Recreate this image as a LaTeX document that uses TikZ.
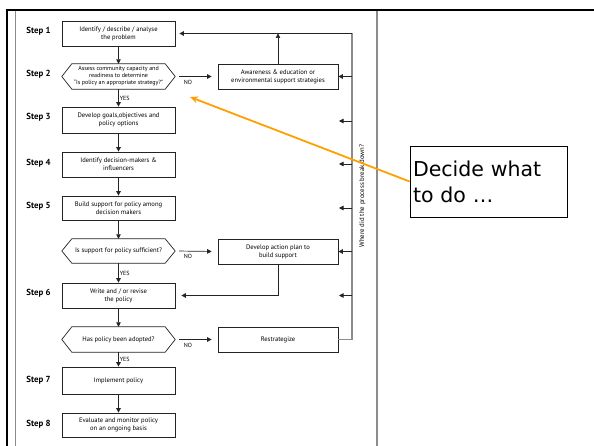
\documentclass[tikz,border=0pt]{standalone}
\usepackage{fontspec}
\setmainfont{PT Sans}
\newfontfamily\calloutfont{DejaVu Sans}
\usetikzlibrary{arrows.meta,calc}
\definecolor{framegray}{RGB}{140,140,140}
\definecolor{linedark}{RGB}{35,35,35}
\definecolor{calloutorange}{RGB}{255,160,0}
% hexagonal decision frame around a (borderless) node
\newcommand\drawhex[1]{%
  \draw[draw=linedark, line width=0.7pt] (#1.west) -- ($(#1.north west)+(10,0)$) -- ($(#1.north east)+(-10,0)$)
    -- (#1.east) -- ($(#1.south east)+(-10,0)$) -- ($(#1.south west)+(10,0)$) -- cycle;}

\begin{document}
\begin{tikzpicture}[x=1pt,y=-1pt,
  boxtext/.style={font=\fontsize{6.6}{7.8}\selectfont},
  stepbox/.style={draw=linedark, line width=0.7pt, minimum width=113pt, minimum height=25pt,
    align=center, inner sep=1pt, boxtext},
  sidebox/.style={stepbox, minimum width=120pt},
  hexnode/.style={minimum width=113pt, minimum height=25pt, align=center, inner sep=1pt, boxtext},
  steplabel/.style={font=\bfseries\fontsize{8.8}{10}\selectfont, inner sep=0pt},
  flow/.style={draw=linedark, line width=0.7pt, -{Triangle[length=4.5pt,width=4.5pt]}},
  tag/.style={font=\fontsize{6}{6.5}\selectfont, inner sep=1pt},
  frameline/.style={framegray, line width=1.2pt},
]
\useasboundingbox (0,0) rectangle (594,446);

% page frame
\draw[line width=2.5pt] (5.75,10) -- (594,10);
\draw[line width=2.5pt] (7,8.75) -- (7,446);
\draw[framegray, line width=1pt] (15,11.25) -- (15,446);
\draw[framegray, line width=1.5pt] (377,11.25) -- (377,446);

% main column
\node[stepbox] (s1) at (118.5,33.5) {Identify / describe / analyse\\the problem};
\node[hexnode, font=\fontsize{6}{7}\selectfont] (s2) at (118.5,76.5)
  {Assess community capacity and\\readiness to determine\\``Is policy an appropriate strategy?''};
\node[stepbox, minimum height=26pt] (s3) at (118.5,120) {Develop goals,objectives and\\policy options};
\node[stepbox] (s4) at (118.5,164.5) {Identify decision-makers \&\\influencers};
\node[stepbox, minimum height=24pt] (s5) at (118.5,208) {Build support for policy among\\decision makers};
\node[hexnode, minimum height=24pt] (q5) at (118.5,251) {Is support for policy sufficient?};
\node[stepbox] (s6) at (118.5,295.5) {Write and / or revise\\the policy};
\node[hexnode] (q6) at (118.5,339.5) {Has policy been adopted?};
\node[stepbox, minimum height=27pt] (s7) at (118.5,380.5) {Implement policy};
\node[stepbox, minimum height=24pt] (s8) at (118.5,425) {Evaluate and monitor policy\\on an ongoing basis};
\drawhex{s2}
\drawhex{q5}
\drawhex{q6}

% step labels
\node[steplabel] (l1) at (38.5,31.5) {Step 1};
\node[steplabel] (l2) at (38.5,74.5) {Step 2};
\node[steplabel] (l3) at (38.5,117.5) {Step 3};
\node[steplabel] (l4) at (38.5,163) {Step 4};
\node[steplabel] (l5) at (38.5,206) {Step 5};
\node[steplabel] (l6) at (38.5,293) {Step 6};
\node[steplabel] (l7) at (38.5,380) {Step 7};
\node[steplabel] (l8) at (38.5,424) {Step 8};

% side column
\node[sidebox] (aw) at (278,76.5) {Awareness \& education or\\environmental support strategies};
\node[sidebox] (ap) at (278,251.5) {Develop action plan to\\build support};
\node[sidebox] (rs) at (278,339.5) {Restrategize};

% downward flow
\draw[flow] (s1.south) -- (s2.north);
\draw[flow] (s2.south) -- node[tag, right] {YES} (s3.north);
\draw[flow] (s3.south) -- (s4.north);
\draw[flow] (s4.south) -- (s5.north);
\draw[flow] (s5.south) -- (q5.north);
\draw[flow] (q5.south) -- node[tag, right] {YES} (s6.north);
\draw[flow] (s6.south) -- (q6.north);
\draw[flow] (q6.south) -- node[tag, right] {YES} (s7.north);
\draw[flow] (s7.south) -- (s8.north);

% NO branches
\draw[flow, shorten <=4pt, shorten >=6pt] (s2.east) -- node[tag, below=2pt, pos=0.3] {NO} (aw.west);
\draw[flow, shorten <=4pt, shorten >=6pt] (q5.east) -- node[tag, below=2pt, pos=0.3] {NO} (ap.west);
\draw[flow, shorten <=4pt, shorten >=6pt] (q6.east) -- node[tag, below=2pt, pos=0.3] {NO} (rs.west);

% feedback loop
\coordinate (fbtop) at (352,33.5);
\coordinate (fbbot) at (352,339.5);
\draw[frameline] (rs.east) -- (fbbot) -- (fbtop);
\draw[flow, shorten >=4pt] (fbtop) -- (s1.east);
\draw[flow] (aw.north) -- (aw.north |- fbtop);
\draw[flow] (aw.east -| fbtop) -- (aw.east);
\draw[flow] (ap.east -| fbtop) -- (ap.east);
\foreach \yy/\nm in {121/t3, 164/t4, 208/t5, 295.5/t6} {
  \coordinate (\nm a) at (352,\yy);
  \coordinate (\nm b) at (339,\yy);
  \draw[flow] (\nm a) -- (\nm b);
}
\draw[flow, shorten >=6pt] (ap.south) |- (s6.east);
\node[rotate=90, font=\fontsize{6.8}{7.5}\selectfont, inner sep=0pt] (why) at (362.5,196)
  {Where did the process break down?};

% callout
\node[draw, line width=0.8pt, minimum width=157pt, minimum height=71pt, text width=151pt,
  inner xsep=3pt, inner ysep=0pt, align=left, font=\calloutfont\fontsize{20.5}{26}\selectfont]
  (cb) at (488.5,181.5) {Decide what\\to do …};
\coordinate (tip) at (190,97);
\draw[calloutorange, line width=1.8pt, -{Stealth[length=8pt,width=7pt]}] (cb.west) -- (tip);
\end{tikzpicture}
\end{document}
